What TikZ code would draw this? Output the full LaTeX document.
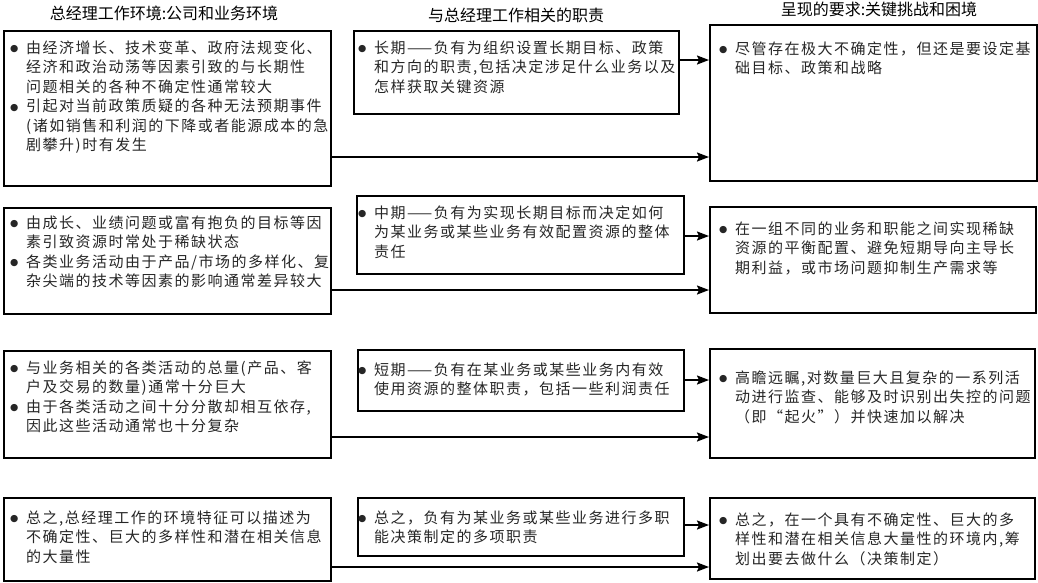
\documentclass[tikz,border=0pt]{standalone}
\usepackage{fontspec}
\usepackage{tikz}
\usetikzlibrary{arrows.meta}
\newfontfamily\cjk[LetterSpace=10]{Noto Sans CJK SC}
\newfontfamily\cjkhead{Noto Sans CJK SC}
\newfontfamily\bulfont{DejaVu Sans}
\newcommand\bul{\makebox[16pt][l]{\raisebox{1.5pt}{\bulfont\fontsize{9.5}{9.5}\selectfont ●}}}
\newcommand\items[1]{\begin{tabular}[t]{@{}l@{}l@{}}#1\end{tabular}}

\begin{document}
\begin{tikzpicture}[x=1pt,y=-1pt,
  box/.style={draw,line width=1.6pt,anchor=north west,inner sep=0},
  txt/.style={anchor=base west,inner sep=0,text=black!85,font=\cjk\fontsize{15}{19.5}\selectfont},
  head/.style={inner sep=0,font=\cjkhead\fontsize{16}{18}\selectfont},
  arr/.style={line width=1.8pt,-{Stealth[length=12pt,width=9pt,inset=2pt]}}]
  \useasboundingbox (0,0) rectangle (1038,582);
  \node[head] at(164,13)(h1){总经理工作环境:公司和业务环境};
  \node[head] at(516,15)(h2){与总经理工作相关的职责};
  \node[head] at(879,9)(h3){呈现的要求:关键挑战和困境};

  \node[box,minimum width=327,minimum height=155] at(3,30)(l1){};
  \node[box,minimum width=325,minimum height=83] at(353,30)(m1){};
  \node[box,minimum width=327,minimum height=156] at(709,24)(r1){};
  \node[box,minimum width=327,minimum height=106] at(3,207)(l2){};
  \node[box,minimum width=327,minimum height=78] at(356,195)(m2){};
  \node[box,minimum width=326,minimum height=106] at(709,206)(r2){};
  \node[box,minimum width=327,minimum height=107] at(3,350)(l3){};
  \node[box,minimum width=326,minimum height=61] at(357,349)(m3){};
  \node[box,minimum width=325,minimum height=109] at(709,348)(r3){};
  \node[box,minimum width=327,minimum height=83] at(3,497)(l4){};
  \node[box,minimum width=326,minimum height=58] at(357,497)(m4){};
  \node[box,minimum width=325,minimum height=81] at(709,497)(r4){};

  \node[txt] at(10,53)(tl1){\items{\bul&由经济增长、技术变革、政府法规变化、\\
    &经济和政治动荡等因素引致的与长期性\\
    &问题相关的各种不确定性通常较大\\
    \bul&引起对当前政策质疑的各种无法预期事件\\
    &(诸如销售和利润的下降或者能源成本的急\\
    &剧攀升)时有发生}};
  \node[txt] at(358,53)(tm1){\items{\bul&长期——负有为组织设置长期目标、政策\\
    &和方向的职责,包括决定涉足什么业务以及\\
    &怎样获取关键资源}};
  \node[txt] at(719,54)(tr1){\items{\bul&尽管存在极大不确定性，但还是要设定基\\
    &础目标、政策和战略}};

  \node[txt] at(10,228)(tl2){\items{\bul&由成长、业绩问题或富有抱负的目标等因\\
    &素引致资源时常处于稀缺状态\\
    \bul&各类业务活动由于产品/市场的多样化、复\\
    &杂尖端的技术等因素的影响通常差异较大}};
  \node[txt] at(358,218)(tm2){\items{\bul&中期——负有为实现长期目标而决定如何\\
    &为某业务或某些业务有效配置资源的整体\\
    &责任}};
  \node[txt] at(719,234)(tr2){\items{\bul&在一组不同的业务和职能之间实现稀缺\\
    &资源的平衡配置、避免短期导向主导长\\
    &期利益，或市场问题抑制生产需求等}};

  \node[txt] at(10,373)(tl3){\items{\bul&与业务相关的各类活动的总量(产品、客\\
    &户及交易的数量)通常十分巨大\\
    \bul&由于各类活动之间十分分散却相互依存,\\
    &因此这些活动通常也十分复杂}};
  \node[txt] at(358,375)(tm3){\items{\bul&短期——负有在某业务或某些业务内有效\\
    &使用资源的整体职责，包括一些利润责任}};
  \node[txt] at(719,383)(tr3){\items{\bul&高瞻远瞩,对数量巨大且复杂的一系列活\\
    &动进行监查、能够及时识别出失控的问题\\
    &（即“起火”）并快速加以解决}};

  \node[txt] at(10,523)(tl4){\items{\bul&总之,总经理工作的环境特征可以描述为\\
    &不确定性、巨大的多样性和潜在相关信息\\
    &的大量性}};
  \node[txt] at(358,523)(tm4){\items{\bul&总之，负有为某业务或某些业务进行多职\\
    &能决策制定的多项职责}};
  \node[txt] at(719,525)(tr4){\items{\bul&总之，在一个具有不确定性、巨大的多\\
    &样性和潜在相关信息大量性的环境内,筹\\
    &划出要去做什么（决策制定）}};

  \coordinate (a1) at(0,60);
  \coordinate (b1) at(0,157);
  \coordinate (a2) at(0,236);
  \coordinate (b2) at(0,290);
  \coordinate (a3) at(0,380);
  \coordinate (b3) at(0,437);
  \coordinate (a4) at(0,525);
  \coordinate (b4) at(0,567);
  \draw[arr] (m1.east |- a1) -- (r1.west |- a1);
  \draw[arr] (l1.east |- b1) -- (r1.west |- b1);
  \draw[arr] (m2.east |- a2) -- (r2.west |- a2);
  \draw[arr] (l2.east |- b2) -- (r2.west |- b2);
  \draw[arr] (m3.east |- a3) -- (r3.west |- a3);
  \draw[arr] (l3.east |- b3) -- (r3.west |- b3);
  \draw[arr] (m4.east |- a4) -- (r4.west |- a4);
  \draw[arr] (l4.east |- b4) -- (r4.west |- b4);
\end{tikzpicture}
\end{document}
